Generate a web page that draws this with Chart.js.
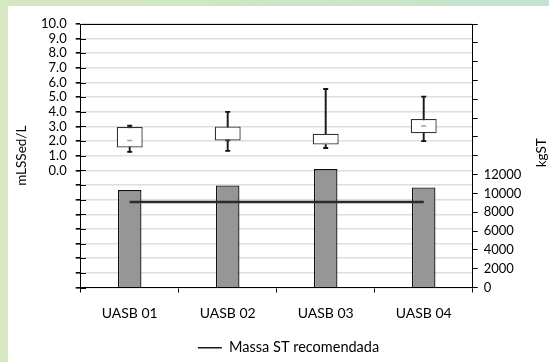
<!DOCTYPE html>
<html>
<head>
<meta charset="utf-8">
<script src="https://cdn.jsdelivr.net/npm/chart.js@4.4.1/dist/chart.umd.min.js"></script>
<style>
  html, body { margin: 0; padding: 0; }
  body {
    width: 549px; height: 362px; overflow: hidden; position: relative;
    background: linear-gradient(90deg, #d6e7c1 0%, #cde6c7 55%, #c3e3cf 100%);
  }
  #panel { position: absolute; left: 8px; top: 6px; width: 541px; height: 356px; background: #fff; }
  canvas { display: block; }
</style>
</head>
<body>
<div id="panel"><canvas id="chart" width="541" height="356"></canvas></div>
<script>
// Reactors
const categories = ['UASB 01', 'UASB 02', 'UASB 03', 'UASB 04'];

// Settleable sludge (mLSSed/L): box plot statistics per reactor
const boxMin    = [1.27, 1.33, 1.53, 2.00];
const boxQ1     = [1.56, 2.04, 1.76, 2.53];
const boxMedian = [2.04, 2.04, 1.84, 3.04];
const boxQ3     = [2.97, 3.00, 2.51, 3.51];
const boxMax    = [3.05, 4.00, 5.56, 5.04];

// Solids mass held in each reactor (kgST) and the recommended mass
const massST          = [10350, 10850, 12580, 10630];
const massRecommended = [9080, 9080, 9080, 9080];

// Axis ranges and the part of each axis that carries labels
const concRange = [-8, 10];      // left axis, labelled from 0.0 to 10.0
const concLabelMin = 0;
const massRange = [0, 28000];    // right axis, labelled from 0 to 12000
const massLabelMax = 12000;

const FONT = 'Lato, "Noto Sans", sans-serif';
Chart.defaults.font.family = FONT;
Chart.defaults.font.size = 13;
Chart.defaults.color = '#000';

const frame = {
  id: 'frame',
  afterLayout(chart) {
    // centre the legend entry under the plot like the original layout
    const lg = chart.legend;
    lg.left += 10; lg.right += 10;
    lg.top += 3; lg.bottom += 3;
  },
  afterDraw(chart) {
    const { ctx, chartArea: a, scales } = chart;
    ctx.save();
    ctx.strokeStyle = '#000';
    ctx.lineWidth = 1;
    ctx.beginPath();
    const top = Math.round(a.top) + 0.5;
    ctx.moveTo(a.left, top); ctx.lineTo(a.right, top);
    // inner half of the left-axis tick marks
    const yL = scales.yL;
    yL.ticks.forEach(t => {
      const y = Math.round(yL.getPixelForValue(t.value)) + 0.5;
      ctx.moveTo(Math.round(a.left), y); ctx.lineTo(Math.round(a.left) + 5, y);
    });
    ctx.stroke();
    // right axis title, reading upwards
    ctx.fillStyle = '#000';
    ctx.font = '13.5px ' + FONT;
    ctx.textAlign = 'center';
    ctx.textBaseline = 'middle';
    ctx.translate(a.right + 68.5, (a.top + a.bottom) / 2 - 3);
    ctx.rotate(-Math.PI / 2);
    ctx.fillText('kgST', 0, 0);
    ctx.restore();
  }
};

new Chart(document.getElementById('chart'), {
  data: {
    labels: categories,
    datasets: [
      {
        type: 'line', label: 'Massa ST recomendada', data: massRecommended, yAxisID: 'yR',
        borderColor: '#2b2b2b', borderWidth: 2.5, pointRadius: 0, order: 0
      },
      {
        type: 'line', label: 'max', data: boxMax, yAxisID: 'yL', showLine: false,
        pointStyle: 'line', pointRadius: 2.5, pointBorderWidth: 1.8, borderColor: '#111', order: 1
      },
      {
        type: 'line', label: 'min', data: boxMin, yAxisID: 'yL', showLine: false,
        pointStyle: 'line', pointRadius: 2.5, pointBorderWidth: 1.8, borderColor: '#111', order: 1
      },
      {
        type: 'line', label: 'median', data: boxMedian, yAxisID: 'yL', showLine: false,
        pointStyle: 'line', pointRadius: 2.5, pointBorderWidth: 1.5, order: 1,
        borderColor: ctx => (boxMedian[ctx.dataIndex] === boxQ1[ctx.dataIndex] ? '#333' : '#a0a0a0')
      },
      {
        type: 'bar', label: 'box', data: boxQ1.map((q, i) => [q, boxQ3[i]]), yAxisID: 'yL',
        backgroundColor: '#fff', borderColor: '#333', borderWidth: 1.3, borderSkipped: false,
        barPercentage: 0.265, categoryPercentage: 1, grouped: false, order: 2
      },
      {
        type: 'bar', label: 'whisker', data: boxMin.map((m, i) => [m, boxMax[i]]), yAxisID: 'yL',
        backgroundColor: '#1a1a1a', barThickness: 1.3, grouped: false, order: 3
      },
      {
        type: 'bar', label: 'Massa ST', data: massST, yAxisID: 'yR',
        backgroundColor: '#969696', borderColor: '#111', borderWidth: 1.3, borderSkipped: 'bottom',
        barPercentage: 0.24, categoryPercentage: 1, grouped: false, order: 4
      }
    ]
  },
  options: {
    responsive: false,
    animation: false,
    layout: { padding: { top: 18, left: 0, right: 0, bottom: 0 } },
    plugins: {
      tooltip: { enabled: false },
      legend: {
        position: 'bottom',
        labels: {
          padding: 0,
          usePointStyle: true,
          pointStyleWidth: 24,
          font: { size: 14.5 },
          color: '#000',
          generateLabels: chart => [{
            text: chart.data.datasets[0].label,
            datasetIndex: 0,
            pointStyle: 'line',
            strokeStyle: '#1a1a1a',
            fillStyle: '#1a1a1a',
            lineWidth: 1.5,
            hidden: false
          }]
        }
      }
    },
    scales: {
      x: {
        type: 'category',
        offset: true,
        grid: { offset: true, drawOnChartArea: false, tickLength: 5, tickColor: '#000' },
        border: { color: '#000', width: 1 },
        ticks: { padding: 13, font: { size: 14 }, color: '#000', maxRotation: 0 },
        afterFit: s => { s.height = 50; }
      },
      yL: {
        type: 'linear', position: 'left',
        min: concRange[0], max: concRange[1],
        grid: { color: '#dedede', lineWidth: 1.6, tickLength: 5, tickColor: '#000' },
        border: { color: '#000', width: 1 },
        ticks: {
          stepSize: 1, autoSkip: false, padding: 9, color: '#000', font: { size: 13 },
          callback: v => (v >= concLabelMin ? v.toFixed(1) : '')
        },
        title: { display: true, text: 'mLSSed/L', font: { size: 13.5 }, color: '#000', padding: { top: 6, bottom: 0 } },
        afterFit: s => { s.width = 72.7; }
      },
      yR: {
        type: 'linear', position: 'right',
        min: massRange[0], max: massRange[1],
        grid: { drawOnChartArea: false, tickLength: 5, tickColor: '#000' },
        border: { color: '#000', width: 1 },
        ticks: {
          stepSize: 2000, autoSkip: false, padding: 6, color: '#000', font: { size: 13 },
          callback: v => (v <= massLabelMax ? String(v) : '')
        },
        afterFit: s => { s.width = 76.3; }
      }
    }
  },
  plugins: [frame]
});
</script>
</body>
</html>
